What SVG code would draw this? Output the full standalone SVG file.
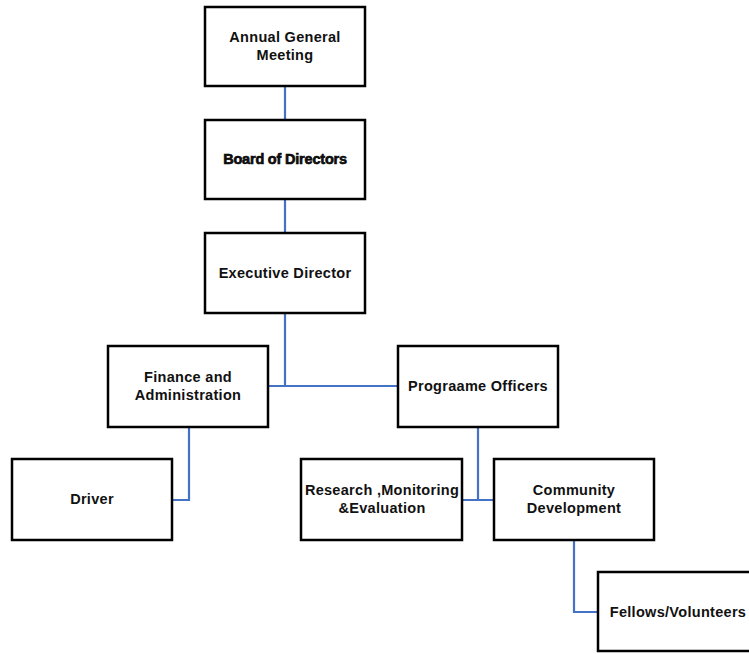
<svg xmlns="http://www.w3.org/2000/svg" width="749" height="654" viewBox="0 0 749 654">
<style>
.box{fill:#fff;stroke:#000;stroke-width:2.5}
.t{font-family:"Liberation Sans",Arial,sans-serif;font-weight:bold;font-size:14.5px;letter-spacing:0.3px;fill:#111;text-anchor:middle}
.heavy{stroke:#000;stroke-width:0.6;letter-spacing:-0.2px}
.c{fill:none;stroke:#4472C4;stroke-width:2.2}
</style>
<rect width="749" height="654" fill="#fff"/>
<g id="connectors">
<path class="c" d="M285 86V120"/>
<path class="c" d="M285 199V233"/>
<path class="c" d="M285 313V386M268 386H398"/>
<path class="c" d="M189 427V500H172"/>
<path class="c" d="M478 427V500M462 500H494"/>
<path class="c" d="M574 540V612H598"/>
</g>
<g id="agm"><rect class="box" x="205" y="7" width="160" height="79"/><text class="t" x="285" y="42">Annual General</text><text class="t" x="285" y="60">Meeting</text></g>
<g id="board"><rect class="box" x="205" y="120" width="160" height="79"/><text class="t heavy" x="285" y="164">Board of Directors</text></g>
<g id="exec"><rect class="box" x="205" y="233" width="160" height="80"/><text class="t" x="285" y="278">Executive Director</text></g>
<g id="finance"><rect class="box" x="108" y="346" width="160" height="81"/><text class="t" x="188" y="382">Finance and</text><text class="t" x="188" y="400">Administration</text></g>
<g id="programme"><rect class="box" x="398" y="346" width="160" height="81"/><text class="t" x="478" y="391">Prograame Officers</text></g>
<g id="driver"><rect class="box" x="12" y="459" width="160" height="81"/><text class="t" x="92" y="504">Driver</text></g>
<g id="research"><rect class="box" x="301" y="459" width="161" height="81"/><text class="t" x="382" y="495">Research ,Monitoring</text><text class="t" x="382" y="513">&amp;Evaluation</text></g>
<g id="community"><rect class="box" x="494" y="459" width="160" height="81"/><text class="t" x="574" y="495">Community</text><text class="t" x="574" y="513">Development</text></g>
<g id="fellows"><rect class="box" x="598" y="572" width="162" height="79"/><text class="t" x="678" y="617">Fellows/Volunteers</text></g>
</svg>
